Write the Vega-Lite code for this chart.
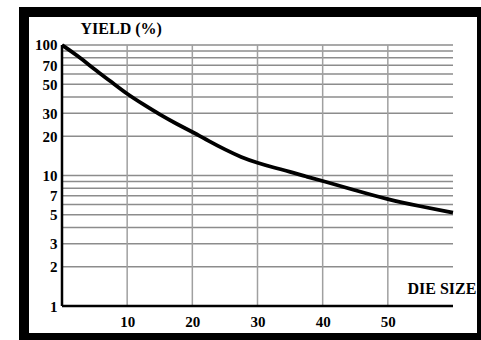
{
  "$schema": "https://vega.github.io/schema/vega-lite/v6.json",
  "width": 458,
  "height": 326,
  "autosize": {"type": "none"},
  "padding": {"left": 24, "top": 12, "right": 0, "bottom": 2},
  "background": "white",
  "config": {"view": {"fill": "white", "stroke": "black", "strokeWidth": 10}},
  "datasets": {
    "curve": [
      {"size": 0, "yield": 100},
      {"size": 2.5, "yield": 82},
      {"size": 5, "yield": 65},
      {"size": 7.5, "yield": 52.5},
      {"size": 10, "yield": 42},
      {"size": 12.5, "yield": 35},
      {"size": 15, "yield": 29.3},
      {"size": 17.5, "yield": 25},
      {"size": 20, "yield": 21.6},
      {"size": 22.5, "yield": 18.4},
      {"size": 25, "yield": 15.8},
      {"size": 27.5, "yield": 13.8},
      {"size": 30, "yield": 12.5},
      {"size": 32.5, "yield": 11.5},
      {"size": 35, "yield": 10.7},
      {"size": 37.5, "yield": 9.8},
      {"size": 40, "yield": 9.1},
      {"size": 45, "yield": 7.7},
      {"size": 50, "yield": 6.55},
      {"size": 55, "yield": 5.8},
      {"size": 60, "yield": 5.2}
    ],
    "hgrid": [
      {"v": 2}, {"v": 3}, {"v": 4}, {"v": 5}, {"v": 6}, {"v": 7}, {"v": 8}, {"v": 9}, {"v": 10},
      {"v": 20}, {"v": 30}, {"v": 40}, {"v": 50}, {"v": 60}, {"v": 70}, {"v": 80}, {"v": 90}, {"v": 100}
    ],
    "vgrid": [{"v": 10}, {"v": 20}, {"v": 30}, {"v": 40}, {"v": 50}],
    "one": [{"k": 1}]
  },
  "layer": [
    {
      "data": {"name": "hgrid"},
      "mark": {"type": "rule", "color": "#8c8c8c", "strokeWidth": 1.5},
      "encoding": {
        "y": {"field": "v", "type": "quantitative", "scale": {"type": "log", "domain": [0.5686, 179.0], "nice": false, "zero": false}},
        "x": {"datum": 0, "type": "quantitative", "scale": {"domain": [-5.831, 64.45], "nice": false, "zero": false}},
        "x2": {"datum": 60}
      }
    },
    {
      "data": {"name": "vgrid"},
      "mark": {"type": "rule", "color": "#a0a0a0", "strokeWidth": 1.5},
      "encoding": {
        "x": {"field": "v", "type": "quantitative", "scale": {"domain": [-5.831, 64.45], "nice": false, "zero": false}},
        "y": {"datum": 1, "type": "quantitative", "scale": {"type": "log", "domain": [0.5686, 179.0], "nice": false, "zero": false}},
        "y2": {"datum": 100}
      }
    },
    {
      "data": {"name": "one"},
      "mark": {"type": "rule", "color": "black", "strokeWidth": 2.5},
      "encoding": {
        "x": {"datum": 0, "type": "quantitative", "scale": {"domain": [-5.831, 64.45], "nice": false, "zero": false}},
        "y": {"datum": 1, "type": "quantitative", "scale": {"type": "log", "domain": [0.5686, 179.0], "nice": false, "zero": false}},
        "y2": {"datum": 100}
      }
    },
    {
      "data": {"name": "one"},
      "mark": {"type": "rule", "color": "black", "strokeWidth": 2.5},
      "encoding": {
        "y": {"datum": 1, "type": "quantitative", "scale": {"type": "log", "domain": [0.5686, 179.0], "nice": false, "zero": false}},
        "x": {"datum": 0, "type": "quantitative", "scale": {"domain": [-5.831, 64.45], "nice": false, "zero": false}},
        "x2": {"datum": 60}
      }
    },
    {
      "data": {"name": "curve"},
      "mark": {"type": "line", "color": "black", "strokeWidth": 3.8, "interpolate": "basis"},
      "encoding": {
        "x": {
          "field": "size", "type": "quantitative",
          "scale": {"domain": [-5.831, 64.45], "nice": false, "zero": false},
          "axis": {
            "orient": "bottom", "offset": -32, "values": [10, 20, 30, 40, 50],
            "domain": false, "ticks": false, "tickSize": 0, "grid": false,
            "labelPadding": 8, "labelFont": "Liberation Serif", "labelFontWeight": "bold", "labelFontSize": 15, "labelColor": "black",
            "labelFlush": false, "labelOverlap": false, "format": "d",
            "title": "DIE SIZE", "titleFont": "Liberation Serif", "titleFontWeight": "bold", "titleFontSize": 16, "titleColor": "black",
            "titleX": 383, "titleY": -13, "titleAlign": "left", "titleBaseline": "alphabetic", "titleAngle": 0
          }
        },
        "y": {
          "field": "yield", "type": "quantitative",
          "scale": {"type": "log", "domain": [0.5686, 179.0], "nice": false, "zero": false},
          "axis": {
            "orient": "left", "offset": -38, "values": [1, 2, 3, 5, 7, 10, 20, 30, 50, 70, 100],
            "domain": false, "ticks": false, "tickSize": 0, "grid": false,
            "labelPadding": 5, "labelFont": "Liberation Serif", "labelFontWeight": "bold", "labelFontSize": 15, "labelColor": "black",
            "labelFlush": false, "labelOverlap": false, "format": "d",
            "title": "YIELD (%)", "titleFont": "Liberation Serif", "titleFontWeight": "bold", "titleFontSize": 16, "titleColor": "black",
            "titleX": 18, "titleY": 21, "titleAlign": "left", "titleBaseline": "alphabetic", "titleAngle": 0
          }
        }
      }
    }
  ]
}
